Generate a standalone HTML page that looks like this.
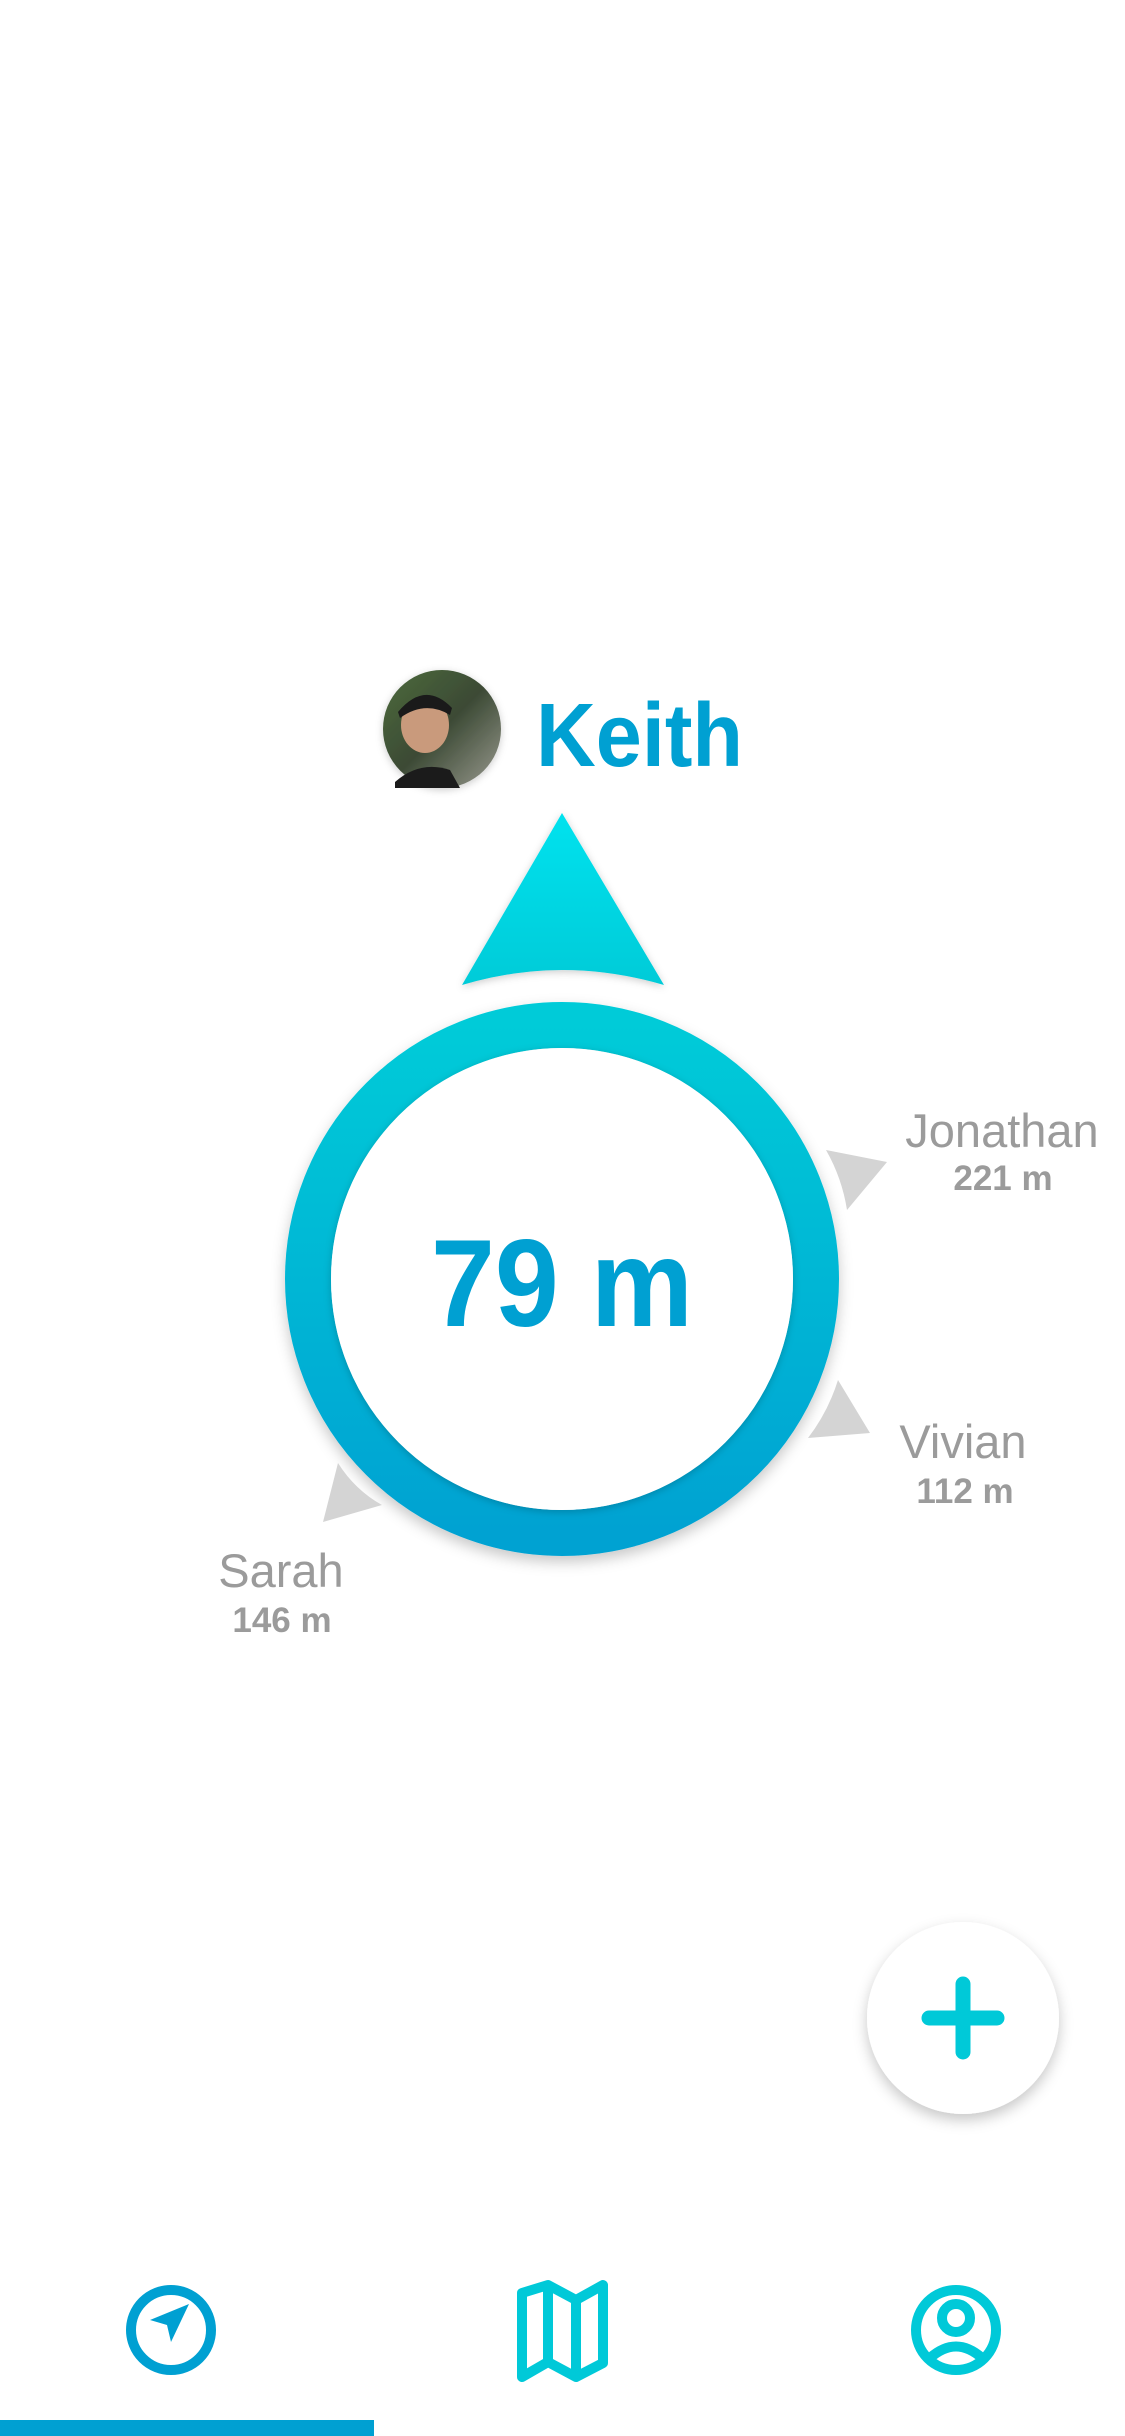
<!DOCTYPE html>
<html><head><meta charset="utf-8"><style>
html,body{margin:0;padding:0;background:#fff;width:1125px;height:2436px;overflow:hidden;font-family:"Liberation Sans",sans-serif}
</style></head><body>
<svg width="1125" height="2436" viewBox="0 0 1125 2436" xmlns="http://www.w3.org/2000/svg">
<defs>
<linearGradient id="ring" x1="0" y1="0" x2="0" y2="1"><stop offset="0" stop-color="#00cbd8"/><stop offset="1" stop-color="#00a2d2"/></linearGradient>
<linearGradient id="tri" x1="0" y1="0" x2="0" y2="1"><stop offset="0" stop-color="#00e2ee"/><stop offset="1" stop-color="#00cbd8"/></linearGradient>
<linearGradient id="av" x1="0" y1="0" x2="1" y2="1"><stop offset="0" stop-color="#4c6b3c"/><stop offset="0.5" stop-color="#3c4a35"/><stop offset="1" stop-color="#9a9a90"/></linearGradient>
<filter id="sh" x="-20%" y="-20%" width="140%" height="140%"><feDropShadow dx="0" dy="6" stdDeviation="7" flood-color="#000" flood-opacity="0.22"/></filter>
<filter id="sh2" x="-20%" y="-20%" width="140%" height="140%"><feDropShadow dx="0" dy="2" stdDeviation="4" flood-color="#000" flood-opacity="0.2"/></filter>
</defs>

<g>
<circle cx="442" cy="729" r="59" fill="url(#av)" filter="url(#sh2)"/>
<ellipse cx="425" cy="725" rx="24" ry="28" fill="#c99a7c"/>
<path d="M398 712 Q425 680 452 708 L450 715 Q425 700 400 718 Z" fill="#1a1a1a"/>
<path d="M395 782 Q420 760 450 770 L460 788 L395 788 Z" fill="#1b1b1b"/>
<text x="536" y="766" font-size="90" font-weight="bold" fill="#00a0d2" textLength="207" lengthAdjust="spacingAndGlyphs">Keith</text>
</g>

<path d="M562 813 L664 985 Q562 955 462 985 Z" fill="url(#tri)" filter="url(#sh2)"/>

<g>
<circle cx="562" cy="1279" r="254" fill="none" stroke="url(#ring)" stroke-width="46" filter="url(#sh)"/>
<circle cx="562" cy="1279" r="231" fill="#fff" filter="url(#sh2)"/>
<text x="562" y="1326" font-size="124" font-weight="bold" fill="#00a0d2" text-anchor="middle" textLength="262" lengthAdjust="spacingAndGlyphs">79 m</text>
</g>

<g fill="#d4d4d4">
<path d="M826 1150 L887 1162 L847 1210 Q842 1178 826 1150 Z"/>
<path d="M838 1380 L870 1433 L808 1438 Q828 1412 838 1380 Z"/>
<path d="M338 1463 Q355 1490 382 1505 L323 1522 Z"/>
</g>

<g fill="#9b9b9b" text-anchor="middle">
<text x="1002" y="1147" font-size="47">Jonathan</text>
<text x="1003" y="1190" font-size="35" font-weight="bold">221 m</text>
<text x="963" y="1458" font-size="47">Vivian</text>
<text x="965" y="1503" font-size="35" font-weight="bold">112 m</text>
<text x="281" y="1587" font-size="47">Sarah</text>
<text x="282" y="1632" font-size="35" font-weight="bold">146 m</text>
</g>

<g>
<circle cx="963" cy="2018" r="96" fill="#fff" filter="url(#sh)"/>
<path d="M963 1984 V2052 M929 2018 H997" stroke="#00c9d8" stroke-width="15" stroke-linecap="round"/>
</g>

<g>
<g>
<circle cx="171" cy="2330" r="40" fill="none" stroke="#00a0d2" stroke-width="10"/>
<path d="M189 2304 L171 2342 L167 2325 L150 2320 Z" fill="#00a0d2"/>
</g>
<g fill="none" stroke="#00c9d8" stroke-width="10" stroke-linejoin="round">
<path d="M522 2293 L548 2285 L576 2300 L603 2285 V2363 L576 2377 L548 2362 L522 2377 Z"/>
<path d="M548 2285 V2362 M576 2300 V2377"/>
</g>
<g fill="none" stroke="#00c9d8" stroke-width="10">
<circle cx="956" cy="2330" r="40"/>
<circle cx="956" cy="2318" r="14"/>
<path d="M930 2358 Q956 2335 982 2358"/>
</g>
<rect x="0" y="2420" width="374" height="16" fill="#00a0d2"/>
</g>
</svg>
</body></html>
